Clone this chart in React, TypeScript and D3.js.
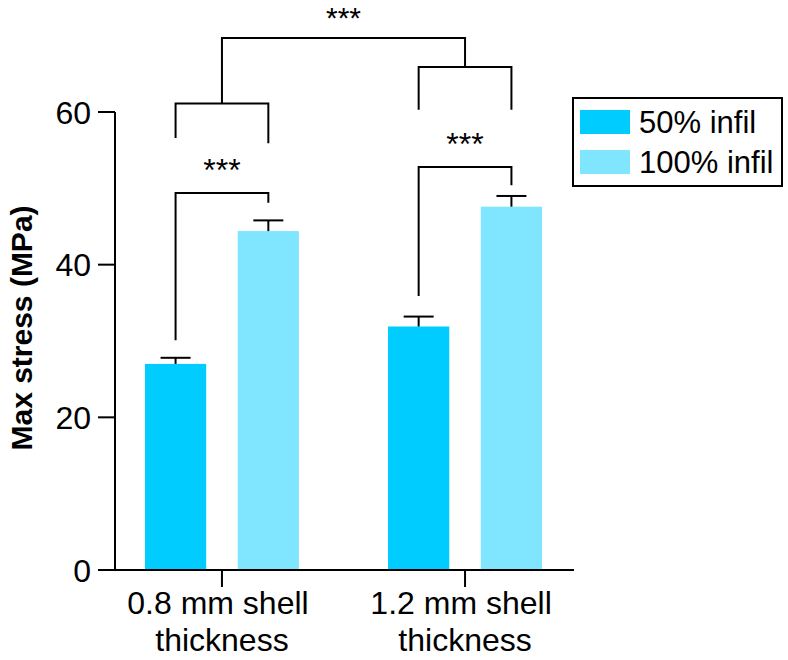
import React from "react";
import * as d3 from "d3";

const categories = ["0.8 mm shell thickness", "1.2 mm shell thickness"];
const catLine1 = ["0.8 mm shell", "1.2 mm shell"];
const catLine2 = ["thickness", "thickness"];
const series = ["50% infil", "100% infil"];
const infil50 = [27.0, 31.9];
const infil100 = [44.4, 47.6];
const err50 = [0.8, 1.3];
const err100 = [1.4, 1.4];
const yTicks = [0, 20, 40, 60];
const colors = ["#00CCFF", "#80E5FF"];

// significance brackets in data units: y of bar, left/right leg ends
const groupBrackets = [
  { cat: 0, y: 49.4, leftEnd: 30.1, rightEnd: 48.1, label: "***" },
  { cat: 1, y: 52.8, leftEnd: 35.9, rightEnd: 50.4, label: "***" },
];
const outerBrackets = [
  { cat: 0, y: 61.1, leftEnd: 56.6, rightEnd: 55.9 },
  { cat: 1, y: 65.9, leftEnd: 60.3, rightEnd: 60.3 },
];
const topBracketY = 69.7;
const topLabel = "***";

const FONT = "'Liberation Sans', Arial, Helvetica, sans-serif";

export default function App() {
  const W = 788, H = 660;
  const y = d3.scaleLinear().domain([0, 60]).range([570, 112]);
  const x = d3.scalePoint<string>().domain(categories).range([115, 572]).padding(0.44);
  const inner = d3.scaleBand<string>().domain(series).range([-77, 77]).paddingInner(0.34).paddingOuter(0);
  const bw = inner.bandwidth();
  const axisX = 115;
  const axisRight = 574;
  const tickLen = 17;
  const values = [infil50, infil100];
  const errs = [err50, err100];
  const center = (ci: number, si: number) => (x(categories[ci]) as number) + (inner(series[si]) as number) + bw / 2;
  const capW = 30;
  const sw = 2;

  return (
    <svg width={W} height={H} style={{ position: "absolute", left: 0, top: 0, background: "#fff" }} fontFamily={FONT}>
      {/* bars */}
      {series.map((s, si) =>
        categories.map((c, ci) => {
          const v = values[si][ci];
          const cx = center(ci, si);
          return (
            <g key={s + c}>
              <rect x={cx - bw / 2} y={y(v)} width={bw} height={y(0) - y(v)} fill={colors[si]} />
              <line x1={cx} x2={cx} y1={y(v)} y2={y(v + errs[si][ci])} stroke="#000" strokeWidth={sw} />
              <line x1={cx - capW / 2} x2={cx + capW / 2} y1={y(v + errs[si][ci])} y2={y(v + errs[si][ci])} stroke="#000" strokeWidth={sw} />
            </g>
          );
        })
      )}
      {/* y axis */}
      <line x1={axisX} x2={axisX} y1={y(60)} y2={y(0)} stroke="#000" strokeWidth={sw} />
      {yTicks.map((t) => (
        <g key={t}>
          <line x1={axisX - tickLen} x2={axisX} y1={y(t)} y2={y(t)} stroke="#000" strokeWidth={sw} />
          <text x={axisX - tickLen - 7} y={y(t)} dy="0.36em" textAnchor="end" fontSize={32} fill="#000">{t}</text>
        </g>
      ))}
      {/* x axis */}
      <line x1={axisX - tickLen} x2={axisRight} y1={y(0)} y2={y(0)} stroke="#000" strokeWidth={sw} />
      {categories.map((c, ci) => {
        const cx = x(c) as number;
        return (
          <g key={c}>
            <line x1={cx} x2={cx} y1={y(0)} y2={y(0) + tickLen} stroke="#000" strokeWidth={sw} />
            <text x={cx - 4} y={614} textAnchor="middle" fontSize={32} fill="#000">{catLine1[ci]}</text>
            <text x={cx} y={651} textAnchor="middle" fontSize={32} fill="#000">{catLine2[ci]}</text>
          </g>
        );
      })}
      {/* y label */}
      <text transform={`translate(32,328) rotate(-90)`} textAnchor="middle" fontSize={30} fontWeight="bold" fill="#000">Max stress (MPa)</text>
      {/* group brackets */}
      {groupBrackets.map((b) => {
        const l = center(b.cat, 0), r = center(b.cat, 1);
        return (
          <g key={"g" + b.cat}>
            <path d={`M${l},${y(b.leftEnd)}V${y(b.y)}H${r}V${y(b.rightEnd)}`} fill="none" stroke="#000" strokeWidth={sw} />
            <text x={(l + r) / 2} y={y(b.y) - 12} textAnchor="middle" fontSize={32} fill="#000">{b.label}</text>
          </g>
        );
      })}
      {outerBrackets.map((b) => {
        const l = center(b.cat, 0), r = center(b.cat, 1);
        const mid = x(categories[b.cat]) as number;
        return (
          <g key={"o" + b.cat}>
            <path d={`M${l},${y(b.leftEnd)}V${y(b.y)}H${r}V${y(b.rightEnd)}`} fill="none" stroke="#000" strokeWidth={sw} />
            <line x1={mid} x2={mid} y1={y(b.y)} y2={y(topBracketY)} stroke="#000" strokeWidth={sw} />
          </g>
        );
      })}
      {(() => {
        const l = x(categories[0]) as number, r = x(categories[1]) as number;
        return (
          <g>
            <line x1={l - 1} x2={r + 1} y1={y(topBracketY)} y2={y(topBracketY)} stroke="#000" strokeWidth={sw} />
            <text x={(l + r) / 2} y={y(topBracketY) - 10} textAnchor="middle" fontSize={30} fill="#000">{topLabel}</text>
          </g>
        );
      })()}
      {/* legend */}
      <g>
        <rect x={573} y={98} width={209} height={88} fill="#fff" stroke="#000" strokeWidth={sw} />
        {series.map((s, si) => (
          <g key={s} transform={`translate(580,${110 + si * 40})`}>
            <rect x={0} y={0} width={50} height={24} fill={colors[si]} />
            <text x={59} y={23} fontSize={31} fill="#000">{s}</text>
          </g>
        ))}
      </g>
    </svg>
  );
}
